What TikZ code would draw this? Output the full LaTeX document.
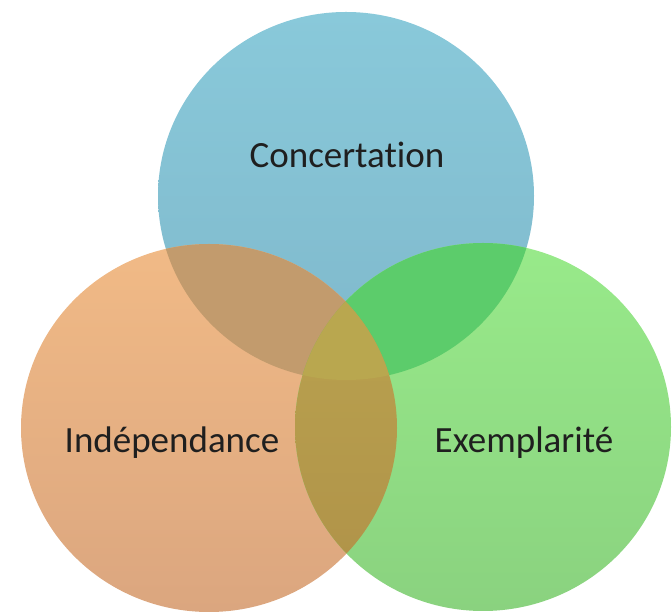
\documentclass[tikz,border=0pt]{standalone}
\usepackage{fontspec}
\setsansfont{Carlito}[Ligatures=NoCommon]
\usetikzlibrary{positioning}

\definecolor{bluetop}{HTML}{89C9DA}
\definecolor{bluebot}{HTML}{7FB8CB}
\definecolor{orangetop}{HTML}{F1BA86}
\definecolor{orangebot}{HTML}{DBA67F}
\definecolor{greentop}{HTML}{98EA8A}
\definecolor{greenbot}{HTML}{8AD27F}
\definecolor{bluorange}{HTML}{C29B6D}
\definecolor{blugreen}{HTML}{5CCC6B}
\definecolor{oggreen}{HTML}{BBA550}
\definecolor{ogbot}{HTML}{AF9148}
\definecolor{triple}{HTML}{B9A74F}

\tikzset{
  settext/.style={font=\sffamily\fontsize{37}{37}\selectfont, text=black!88, anchor=base},
  blob/.style={x radius=188pt, y radius=184pt}
}

\begin{document}
\begin{tikzpicture}[x=1pt, y=1pt]
    \useasboundingbox (0,0) rectangle (672,615);

    % Centres of the three sets
    \coordinate (cblue) at (346,419);
    \coordinate (corange) at (209,187);
    \coordinate (cgreen) at (483,188);

    % The three sets
    \shade[top color=bluetop, bottom color=bluebot] (cblue) ellipse [blob];
    \shade[top color=orangetop, bottom color=orangebot] (corange) ellipse [blob];
    \shade[top color=greentop, bottom color=greenbot] (cgreen) ellipse [blob];

    % Overlaps
    \begin{scope}
        \clip (cblue) ellipse [blob];
        \fill[bluorange] (corange) ellipse [blob];
        \fill[blugreen] (cgreen) ellipse [blob];
    \end{scope}
    \begin{scope}
        \clip (corange) ellipse [blob];
        \shade[top color=oggreen, bottom color=ogbot] (cgreen) ellipse [blob];
        \clip (cblue) ellipse [blob];
        \fill[triple] (cgreen) ellipse [blob];
    \end{scope}

    % Labels
    \node[settext] (concert) at (347,447) {Concertation};
    \node[settext] (indep) at (172,162) {Indépendance};
    \node[settext] (exempl) at (524,162) {Exemplarité};
\end{tikzpicture}
\end{document}
